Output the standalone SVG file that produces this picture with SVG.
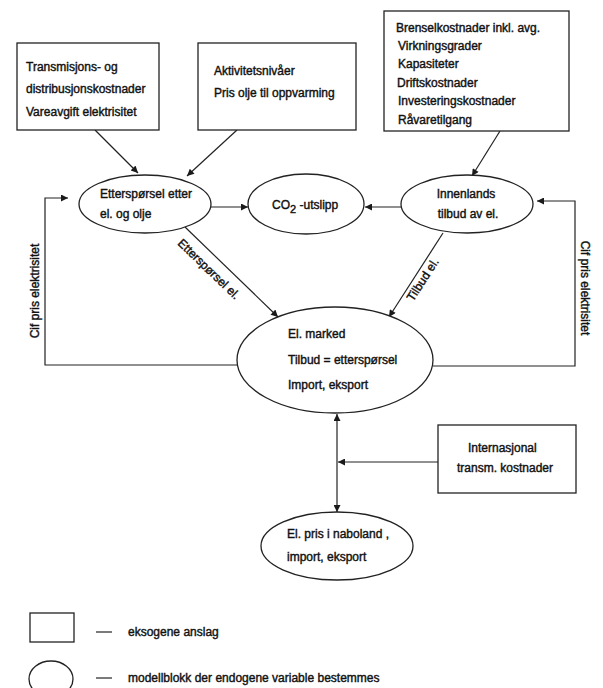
<svg xmlns="http://www.w3.org/2000/svg" width="603" height="688" viewBox="0 0 603 688">
<defs>
<marker id="ah" viewBox="0 0 10 10" refX="10" refY="5" markerWidth="9" markerHeight="7" markerUnits="userSpaceOnUse" orient="auto">
<path d="M0,0 L10,5 L0,10 z" fill="#1a1a1a"/>
</marker>
<marker id="ahs" viewBox="0 0 10 10" refX="0" refY="5" markerWidth="9" markerHeight="7" markerUnits="userSpaceOnUse" orient="auto">
<path d="M10,0 L0,5 L10,10 z" fill="#1a1a1a"/>
</marker>
</defs>
<style>
text{font-family:"Liberation Sans",Arial,sans-serif;font-size:12px;fill:#111;stroke:#111;stroke-width:0.4}
.b{fill:#fff;stroke:#222;stroke-width:1.3}
.c{fill:none;stroke:#222;stroke-width:1.2}
.m{text-anchor:middle}
</style>
<rect width="603" height="688" fill="#fff"/>

<g id="connectors">
<line class="c" x1="95" y1="130" x2="138" y2="173" marker-end="url(#ah)"/>
<line class="c" x1="237" y1="130" x2="187" y2="176" marker-end="url(#ah)"/>
<line class="c" x1="500" y1="131" x2="472" y2="176" marker-end="url(#ah)"/>
<line class="c" x1="211" y1="207" x2="248" y2="207" marker-end="url(#ah)"/>
<line class="c" x1="401" y1="207" x2="365" y2="207" marker-end="url(#ah)"/>
<line class="c" x1="185" y1="227" x2="278" y2="317" marker-end="url(#ah)"/>
<line class="c" x1="443" y1="233" x2="389" y2="317" marker-end="url(#ah)"/>
<polyline class="c" points="238,365 45,365 45,198 68,198" marker-end="url(#ah)"/>
<polyline class="c" points="433,366 575,366 575,201 537,201" marker-end="url(#ah)"/>
<line class="c" x1="337" y1="414" x2="337" y2="512" marker-start="url(#ahs)" marker-end="url(#ah)"/>
<line class="c" x1="438" y1="462" x2="338" y2="462" marker-end="url(#ah)"/>
<text transform="translate(177,244) rotate(44)">Etterspørsel el.</text>
<text transform="translate(413,302) rotate(-57)">Tilbud el.</text>
<text class="m" transform="translate(39,291) rotate(-90)">Cif pris elektrisitet</text>
<text class="m" transform="translate(581,288) rotate(90)">Cif pris elektrisitet</text>
</g>

<g id="box-transmisjon">
<rect class="b" x="17" y="43" width="142" height="87"/>
<text x="26" y="71">Transmisjons- og</text>
<text x="26" y="93">distribusjonskostnader</text>
<text x="26" y="116">Vareavgift elektrisitet</text>
</g>

<g id="box-aktivitet">
<rect class="b" x="198" y="43" width="158" height="87"/>
<text x="214" y="75">Aktivitetsnivåer</text>
<text x="214" y="97">Pris olje til oppvarming</text>
</g>

<g id="box-brensel">
<rect class="b" x="384" y="11" width="185" height="120"/>
<text x="396" y="32">Brenselkostnader inkl. avg.</text>
<text x="398" y="50">Virkningsgrader</text>
<text x="398" y="68">Kapasiteter</text>
<text x="397" y="87">Driftskostnader</text>
<text x="398" y="105">Investeringskostnader</text>
<text x="398" y="124">Råvaretilgang</text>
</g>

<g id="ell-etterspørsel">
<ellipse class="b" cx="145" cy="204" rx="66" ry="29"/>
<text x="100" y="198">Etterspørsel etter</text>
<text x="100" y="218">el. og olje</text>
</g>

<g id="ell-co2">
<ellipse class="b" cx="306" cy="204" rx="58" ry="30"/>
<text x="272" y="209">CO<tspan dy="4" font-size="11">2</tspan><tspan dy="-4"> -utslipp</tspan></text>
</g>

<g id="ell-innenlands">
<ellipse class="b" cx="467" cy="204" rx="66" ry="29"/>
<text class="m" x="466" y="198">Innenlands</text>
<text class="m" x="468" y="218">tilbud av el.</text>
</g>

<g id="ell-marked">
<ellipse class="b" cx="335" cy="360" rx="98" ry="53"/>
<text x="288" y="338">El. marked</text>
<text x="288" y="364">Tilbud = etterspørsel</text>
<text x="288" y="389">Import, eksport</text>
</g>

<g id="box-internasjonal">
<rect class="b" x="438" y="425" width="138" height="68"/>
<text x="468" y="452">Internasjonal</text>
<text x="457" y="472">transm. kostnader</text>
</g>

<g id="ell-naboland">
<ellipse class="b" cx="337" cy="546" rx="76" ry="34"/>
<text x="287" y="538">El. pris i naboland ,</text>
<text x="287" y="561">import, eksport</text>
</g>

<g id="legend">
<rect class="b" x="30" y="613" width="44" height="29"/>
<line class="c" x1="96" y1="632" x2="112" y2="632"/>
<text x="128" y="636">eksogene anslag</text>
<ellipse class="b" cx="51" cy="679" rx="22" ry="18"/>
<line class="c" x1="96" y1="678" x2="112" y2="678"/>
<text x="128" y="682">modellblokk der endogene variable bestemmes</text>
</g>
</svg>
